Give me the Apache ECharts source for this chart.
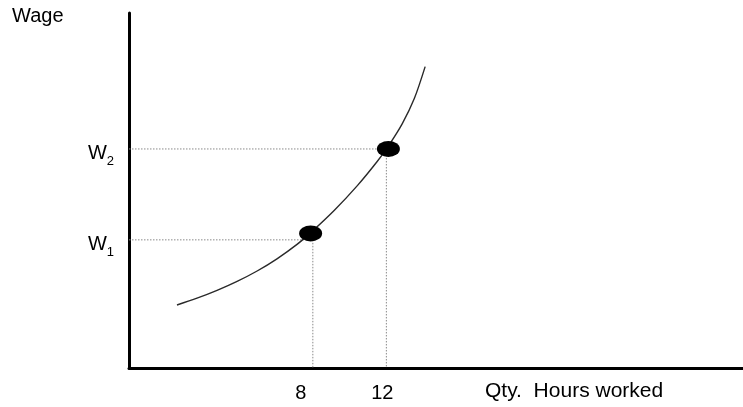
<!DOCTYPE html>
<html>
<head>
<meta charset="utf-8">
<script src="https://cdn.jsdelivr.net/npm/echarts@6/dist/echarts.min.js"></script>
<style>
html,body{margin:0;padding:0;background:#fff;}
#chart{width:743px;height:407px;}
</style>
</head>
<body>
<div id="chart"></div>
<script>
// ---- data (hours worked, wage index) ----
var supplyCurve = [
  [0.61, 17.75], [1.70, 19.66], [2.79, 21.86], [3.88, 24.39], [4.97, 27.32],
  [6.05, 30.76], [7.14, 34.82], [7.90, 38.20], [9.16, 44.37], [10.41, 51.30],
  [11.50, 58.17], [12.10, 62.45], [12.86, 68.76], [13.52, 75.9], [14.11, 84.9]
];
var equilibriumPoints = [[7.88, 37.9], [12.11, 61.7]];
var hourTicks = [8, 12];
var wageTicks = [36.1, 61.7];
var wageTickNames = ['1', '2'];
var xRange = [-2, 31.4];
var yRange = [0, 100];
var xLabel = 'Qty.  Hours worked';
var yLabel = 'Wage';

var FONT = 'Liberation Sans, Arial, sans-serif';
var guideStyle = { color: '#8a8a8a', width: 1, type: [1.5, 1.5] };

function guide(points) {
  return {
    type: 'line', data: points, showSymbol: false, silent: true,
    lineStyle: guideStyle, z: 1
  };
}

var chart = echarts.init(document.getElementById('chart'), null, { renderer: 'canvas' });
chart.setOption({
  backgroundColor: '#ffffff',
  animation: false,
  title: [
    { text: yLabel, left: 12, top: 6, padding: 0,
      textStyle: { fontFamily: FONT, fontSize: 20, fontWeight: 'normal', color: '#000' } },
    { text: xLabel, left: 485, top: 381, padding: 0,
      textStyle: { fontFamily: FONT, fontSize: 21, fontWeight: 'normal', color: '#000' } }
  ],
  grid: { left: 129, right: 0, top: 13, bottom: 39, containLabel: false },
  xAxis: {
    type: 'value', min: xRange[0], max: xRange[1],
    axisLine: { show: true, onZero: false, lineStyle: { color: '#000', width: 3 } },
    axisTick: { show: false },
    splitLine: { show: false },
    axisLabel: {
      customValues: hourTicks,
      margin: 15,
      fontFamily: FONT, fontSize: 20, color: '#000',
      formatter: function (v) { return v === 8 ? '{a|8}' : '{b|' + v + '}'; },
      rich: {
        a: { fontFamily: FONT, fontSize: 20, color: '#000', padding: [0, 24, 0, 0] },
        b: { fontFamily: FONT, fontSize: 20, color: '#000', padding: [0, 8, 0, 0] }
      }
    }
  },
  yAxis: {
    type: 'value', min: yRange[0], max: yRange[1],
    axisLine: { show: true, onZero: false, lineStyle: { color: '#000', width: 3 } },
    axisTick: { show: false },
    splitLine: { show: false },
    axisLabel: {
      customValues: wageTicks,
      margin: 15,
      padding: [18, 0, 0, 0],
      formatter: function (v) {
        var i = wageTicks.indexOf(v);
        return '{w|W}{s|' + wageTickNames[i] + '}';
      },
      rich: {
        w: { fontFamily: FONT, fontSize: 20, color: '#000', verticalAlign: 'bottom', lineHeight: 20, padding: [0, 0, 4, 0] },
        s: { fontFamily: FONT, fontSize: 13, color: '#000', verticalAlign: 'bottom', lineHeight: 13 }
      }
    }
  },
  series: [
    guide([[xRange[0], wageTicks[1]], [12.6, wageTicks[1]]]),
    guide([[xRange[0], wageTicks[0]], [7.5, wageTicks[0]]]),
    guide([[hourTicks[0], wageTicks[0]], [hourTicks[0], 0]]),
    guide([[hourTicks[1], wageTicks[1]], [hourTicks[1], 0]]),
    {
      type: 'line', data: supplyCurve, smooth: 0.3, showSymbol: false,
      lineStyle: { color: '#2a2a2a', width: 1.4 }, z: 3
    },
    {
      type: 'scatter', data: equilibriumPoints, symbol: 'circle', symbolSize: [23, 16],
      itemStyle: { color: '#000', opacity: 1 }, z: 4
    }
  ]
});
</script>
</body>
</html>
